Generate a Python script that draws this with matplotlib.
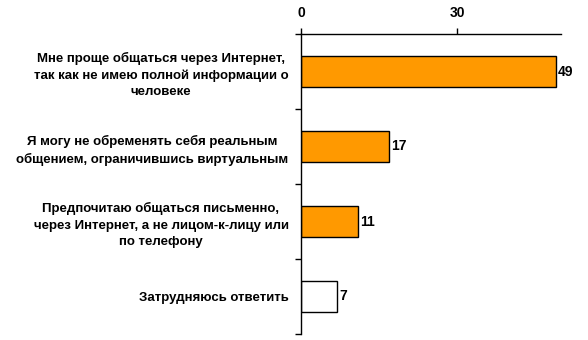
import matplotlib
matplotlib.use("Agg")
import matplotlib.pyplot as plt

categories = [
    "Мне проще общаться через Интернет,\nтак как не имею полной информации о\nчеловеке",
    "Я могу не обременять себя реальным\nобщением, ограничившись виртуальным",
    "Предпочитаю общаться письменно,\nчерез Интернет, а не лицом-к-лицу или\nпо телефону",
    "Затрудняюсь ответить",
]
values = [49, 17, 11, 7]
colors = ["#FF9900", "#FF9900", "#FF9900", "#FFFFFF"]
xticks = [0, 30]

plt.rcParams['font.family'] = ['Liberation Sans', 'DejaVu Sans']
plt.rcParams['font.weight'] = 'bold'

fig = plt.figure(figsize=(5.88, 3.40), dpi=100)
ax = fig.add_axes([301/588, 1 - 334/340, (561-301)/588, (334-34)/340])

pos = list(range(len(values)))
ax.barh(pos, values, height=0.42, color=colors, edgecolor='black', linewidth=1)
ax.set_xlim(0, 50)
ax.set_ylim(len(values) - 0.5, -0.5)
ax.xaxis.tick_top()
ax.set_xticks(xticks)
ax.set_xticklabels([str(t) for t in xticks], fontsize=10, fontweight='bold')
ax.tick_params(axis='x', direction='out', length=4, pad=6, width=1)

ax.set_yticks(pos)
ax.set_yticklabels(categories, fontsize=9.5, fontweight='bold', linespacing=1.45)
for lab in ax.get_yticklabels():
    lab.set_multialignment('center')
ax.tick_params(axis='y', length=0, pad=9)
# boundary ticks
ax.set_yticks([p - 0.5 for p in pos] + [len(values) - 0.5], minor=True)
ax.tick_params(axis='y', which='minor', direction='out', length=4, width=1)

for s in ['right', 'bottom']:
    ax.spines[s].set_visible(False)
for s in ['left', 'top']:
    ax.spines[s].set_linewidth(1)

for p, v in zip(pos, values):
    ax.text(v + 0.4, p, str(v), va='center', ha='left', fontsize=10, fontweight='bold')

fig.savefig("out.png", dpi=100, facecolor='white')
